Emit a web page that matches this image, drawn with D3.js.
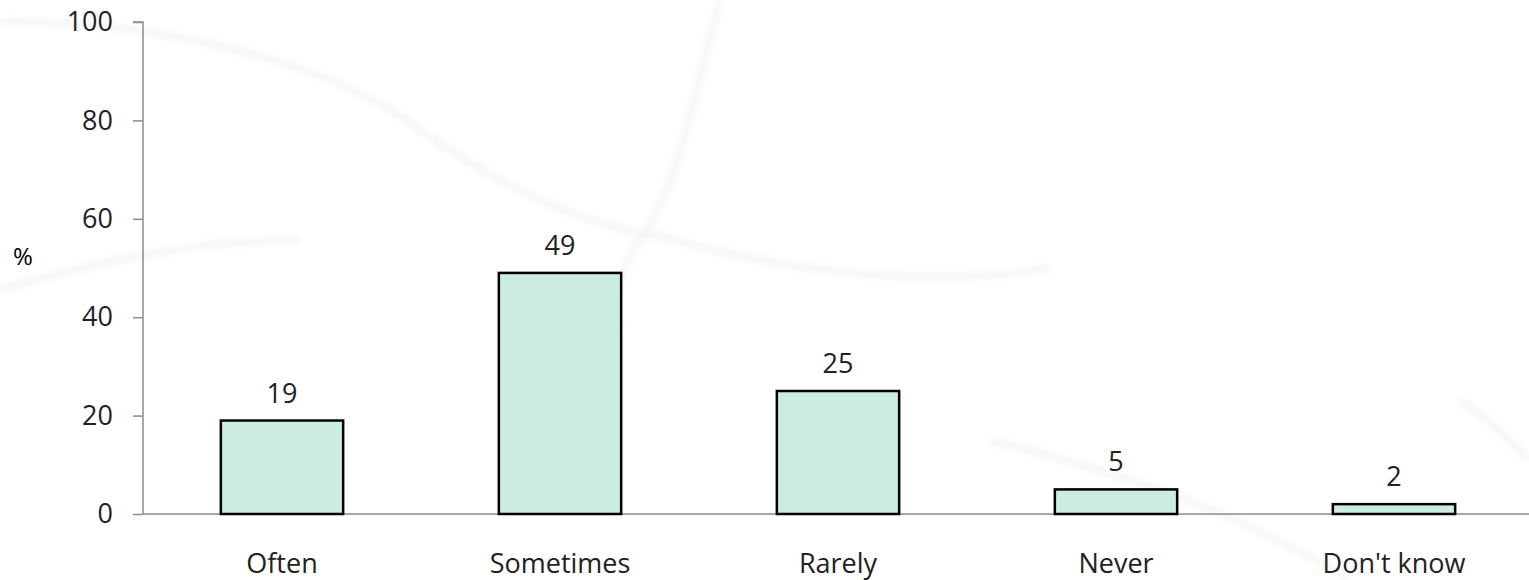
<!DOCTYPE html>
<html>
<head>
<meta charset="utf-8">
<script src="https://cdn.jsdelivr.net/npm/d3@7"></script>
<style>
  body { margin: 0; background: #fff; }
  text { font-family: "Open Sans", sans-serif; }
</style>
</head>
<body>
<div id="chart"></div>
<script>
// survey answers, percent
var categories = ["Often", "Sometimes", "Rarely", "Never", "Don't know"];
var values = [19, 49, 25, 5, 2];
var yTicks = [0, 20, 40, 60, 80, 100];

var svgWidth = 1529;
var svgHeight = 580;
var margin = { top: 22, right: 0, bottom: 66, left: 143 };
var height = svgHeight - margin.top - margin.bottom;

var svg = d3.select("#chart")
  .append("svg")
  .attr("width", svgWidth)
  .attr("height", svgHeight);

// faint background swooshes
var defs = svg.append("defs");
defs.append("filter").attr("id", "soft")
  .append("feGaussianBlur").attr("stdDeviation", 3);
var bg = svg.append("g").attr("filter", "url(#soft)")
  .attr("fill", "none").attr("stroke", "#f4f4f4").attr("stroke-width", 6);
bg.append("path").attr("d", "M0,22 C150,20 330,60 420,130 C520,200 600,230 680,240");
bg.append("path").attr("d", "M720,0 C690,110 680,180 640,240 C620,270 610,300 620,330");
bg.append("path").attr("d", "M640,230 C800,280 950,285 1050,268");
bg.append("path").attr("d", "M0,290 C100,260 200,240 300,240");
bg.append("path").attr("d", "M990,440 C1150,480 1250,520 1350,580");
bg.append("path").attr("d", "M1460,400 C1490,420 1510,440 1529,460");

var chartGroup = svg.append("g")
  .attr("transform", `translate(${margin.left}, ${margin.top})`);

var xScale = d3.scaleBand()
  .domain(categories)
  .range([0, 1390])
  .paddingInner(0.56)
  .paddingOuter(0.28);

var yScale = d3.scaleLinear()
  .domain([0, 100])
  .range([height, 0]);

// y axis
var leftAxis = d3.axisLeft(yScale)
  .tickValues(yTicks)
  .tickSize(10)
  .tickSizeOuter(10)
  .tickPadding(20);

var yAxisG = chartGroup.append("g").call(leftAxis);
yAxisG.select(".domain").attr("stroke", "#8c8c8c").attr("stroke-width", 1.5)
  .attr("d", `M-10,0H0V${height}`);
yAxisG.selectAll(".tick line").attr("stroke", "#8c8c8c").attr("stroke-width", 1.5);
yAxisG.selectAll(".tick text")
  .style("font-size", "27px")
  .attr("fill", "#222");

// x axis line
var bottomAxis = d3.axisBottom(xScale).tickSize(0).tickPadding(40);
var xAxisG = chartGroup.append("g")
  .attr("transform", `translate(0, ${height})`)
  .call(bottomAxis);
xAxisG.select(".domain").attr("stroke", "#8c8c8c").attr("stroke-width", 1.5)
  .attr("d", `M0,0H1390`);
xAxisG.selectAll(".tick text")
  .style("font-size", "27px")
  .attr("fill", "#222");

// bars
chartGroup.selectAll("rect.bar")
  .data(values)
  .enter()
  .append("rect")
  .attr("class", "bar")
  .attr("x", (d, i) => xScale(categories[i]))
  .attr("y", d => yScale(d))
  .attr("width", xScale.bandwidth())
  .attr("height", d => height - yScale(d))
  .attr("fill", "#cbede0")
  .attr("stroke", "#000")
  .attr("stroke-width", 2.5);

// value labels
chartGroup.selectAll("text.val")
  .data(values)
  .enter()
  .append("text")
  .attr("class", "val")
  .attr("x", (d, i) => xScale(categories[i]) + xScale.bandwidth() / 2)
  .attr("y", d => yScale(d) - 18)
  .attr("text-anchor", "middle")
  .style("font-size", "27px")
  .attr("fill", "#222")
  .text(d => d);

// % label
svg.append("text")
  .attr("x", 23)
  .attr("y", 265)
  .attr("text-anchor", "middle")
  .style("font-size", "24px")
  .attr("fill", "#000")
  .text("%");
</script>
</body>
</html>
